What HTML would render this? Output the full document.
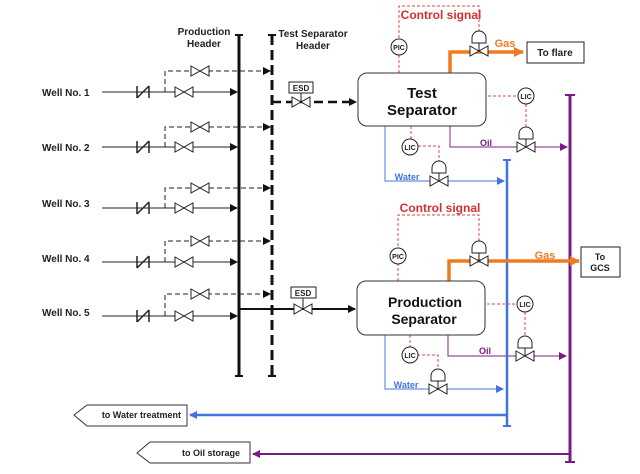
<!DOCTYPE html>
<html><head><meta charset="utf-8"><style>
html,body{margin:0;padding:0;background:#fff;}
svg{display:block;font-family:"Liberation Sans","DejaVu Sans",sans-serif;}
.lbl{font-size:10px;font-weight:bold;fill:#222;}
</style></head><body>
<svg width="640" height="474" viewBox="0 0 640 474" xmlns="http://www.w3.org/2000/svg">
<defs>
<g id="v"><path d="M-9,-5 L9,5 L9,-5 L-9,5 Z" fill="#fff" stroke="#222" stroke-width="1"/></g>
<g id="cv"><path d="M-9,-5 L9,5 L9,-5 L-9,5 Z" fill="#fff" stroke="#222" stroke-width="1"/><line x1="0" y1="0" x2="0" y2="-8" stroke="#222"/><path d="M-7,-8 L-7,-13 A7,7 0 0 1 7,-13 L7,-8 Z" fill="#fff" stroke="#222"/></g>
<g id="ck"><line x1="-6" y1="-6" x2="-6" y2="6" stroke="#222" stroke-width="1.5"/><line x1="6" y1="-6" x2="6" y2="6" stroke="#222" stroke-width="1.5"/><line x1="-6" y1="6" x2="6" y2="-6" stroke="#222" stroke-width="1.5"/></g>
<marker id="ak" markerWidth="8" markerHeight="8" refX="7" refY="4" orient="auto" markerUnits="userSpaceOnUse"><path d="M0,0 L8,4 L0,8 Z" fill="#111"/></marker>
<marker id="ab" markerWidth="8" markerHeight="8" refX="7" refY="4" orient="auto" markerUnits="userSpaceOnUse"><path d="M0,0 L8,4 L0,8 Z" fill="#4472e0"/></marker>
<marker id="ap" markerWidth="8" markerHeight="8" refX="7" refY="4" orient="auto" markerUnits="userSpaceOnUse"><path d="M0,0 L8,4 L0,8 Z" fill="#7b1a86"/></marker>
<marker id="ao" markerWidth="10" markerHeight="10" refX="9" refY="5" orient="auto" markerUnits="userSpaceOnUse"><path d="M0,0 L10,5 L0,10 Z" fill="#f07a20"/></marker>
</defs>

<!-- headers text -->
<text class="lbl" x="204" y="35" text-anchor="middle">Production</text>
<text class="lbl" x="204" y="47" text-anchor="middle">Header</text>
<text class="lbl" x="313" y="37" text-anchor="middle">Test Separator</text>
<text class="lbl" x="313" y="49" text-anchor="middle">Header</text>

<!-- headers -->
<line x1="239" y1="35" x2="239" y2="376" stroke="#111" stroke-width="3"/>
<line x1="235" y1="35" x2="243" y2="35" stroke="#111" stroke-width="2"/>
<line x1="235" y1="376" x2="243" y2="376" stroke="#111" stroke-width="2"/>
<line x1="272" y1="35" x2="272" y2="376" stroke="#111" stroke-width="3" stroke-dasharray="10,5"/>
<line x1="268" y1="35" x2="276" y2="35" stroke="#111" stroke-width="2"/>
<line x1="268" y1="376" x2="276" y2="376" stroke="#111" stroke-width="2"/>

<!-- wells -->
<g font-size="10" font-weight="bold" fill="#222">
<text x="42" y="96">Well No. 1</text>
<text x="42" y="151">Well No. 2</text>
<text x="42" y="207">Well No. 3</text>
<text x="42" y="262">Well No. 4</text>
<text x="42" y="316">Well No. 5</text>
</g>
<g stroke="#222" stroke-width="1" fill="none">
<path d="M102,92 H237" marker-end="url(#ak)"/><path d="M165,92 V71 H270" stroke-dasharray="5,3" marker-end="url(#ak)"/>
<path d="M102,147 H237" marker-end="url(#ak)"/><path d="M165,147 V127 H270" stroke-dasharray="5,3" marker-end="url(#ak)"/>
<path d="M102,208 H237" marker-end="url(#ak)"/><path d="M165,208 V188 H270" stroke-dasharray="5,3" marker-end="url(#ak)"/>
<path d="M102,262 H237" marker-end="url(#ak)"/><path d="M165,262 V241 H270" stroke-dasharray="5,3" marker-end="url(#ak)"/>
<path d="M102,316 H237" marker-end="url(#ak)"/><path d="M165,316 V294 H270" stroke-dasharray="5,3" marker-end="url(#ak)"/>
</g>
<use href="#ck" x="143" y="92"/><use href="#v" x="184" y="92"/><use href="#v" x="200" y="71"/>
<use href="#ck" x="143" y="147"/><use href="#v" x="184" y="147"/><use href="#v" x="200" y="127"/>
<use href="#ck" x="143" y="208"/><use href="#v" x="184" y="208"/><use href="#v" x="200" y="188"/>
<use href="#ck" x="143" y="262"/><use href="#v" x="184" y="262"/><use href="#v" x="200" y="241"/>
<use href="#ck" x="143" y="316"/><use href="#v" x="184" y="316"/><use href="#v" x="200" y="294"/>

<!-- ESD lines -->
<line x1="272" y1="102" x2="356" y2="102" stroke="#111" stroke-width="2.5" stroke-dasharray="9,5" marker-end="url(#ak)"/>
<rect x="289" y="82" width="24" height="11" fill="#fff" stroke="#222"/><text x="301" y="91" font-size="8" font-weight="bold" text-anchor="middle" fill="#222">ESD</text>
<line x1="301" y1="93" x2="301" y2="102" stroke="#222"/><use href="#v" x="301" y="102"/>
<line x1="239" y1="309" x2="355" y2="309" stroke="#111" stroke-width="2" marker-end="url(#ak)"/>
<rect x="291" y="287" width="25" height="11" fill="#fff" stroke="#222"/><text x="303" y="296" font-size="8" font-weight="bold" text-anchor="middle" fill="#222">ESD</text>
<line x1="303" y1="298" x2="303" y2="309" stroke="#222"/><use href="#v" x="303" y="309"/>

<!-- vertical collectors -->
<line x1="507" y1="160" x2="507" y2="426" stroke="#4472e0" stroke-width="2.5"/>
<line x1="503" y1="160" x2="511" y2="160" stroke="#4472e0" stroke-width="2"/>
<line x1="503" y1="426" x2="511" y2="426" stroke="#4472e0" stroke-width="2"/>
<line x1="570" y1="95" x2="570" y2="462" stroke="#7b1a86" stroke-width="3"/>
<line x1="565" y1="95" x2="575" y2="95" stroke="#7b1a86" stroke-width="2"/>
<line x1="565" y1="462" x2="575" y2="462" stroke="#7b1a86" stroke-width="2"/>

<!-- TEST SEPARATOR -->
<g stroke="#d44" stroke-width="1" stroke-dasharray="3,2" fill="none">
<path d="M399,73 V6 H479 V37"/><path d="M473,96 H518"/><path d="M526,104 V128"/>
<path d="M411,126 V139"/><path d="M418,146 H439 V168"/>
</g>
<text x="441" y="19" font-size="12" font-weight="bold" fill="#d43030" text-anchor="middle">Control signal</text>
<circle cx="399" cy="47" r="8" fill="#fff" stroke="#222"/><text x="399" y="50" font-size="7" font-weight="bold" text-anchor="middle" fill="#222">PIC</text>
<path d="M450,73 V52 H523" stroke="#f07a20" stroke-width="3.5" fill="none" marker-end="url(#ao)"/>
<use href="#cv" x="479" y="51"/>
<text x="505" y="47" font-size="11" font-weight="bold" fill="#f07a20" text-anchor="middle">Gas</text>
<rect x="527" y="42" width="57" height="21" fill="#fff" stroke="#222"/><text x="555" y="56" font-size="10" font-weight="bold" text-anchor="middle" fill="#222">To flare</text>
<path d="M450,126 V147 H567" stroke="#9a4a9e" stroke-width="1.2" fill="none" marker-end="url(#ap)"/>
<text x="486" y="146" font-size="9" font-weight="bold" fill="#7b1a86" text-anchor="middle">Oil</text>
<path d="M385,126 V181 H504" stroke="#6a8ee8" stroke-width="1.2" fill="none" marker-end="url(#ab)"/>
<text x="407" y="180" font-size="9" font-weight="bold" fill="#4472e0" text-anchor="middle">Water</text>
<rect x="358" y="73" width="128" height="53" rx="9" fill="#fff" stroke="#333" stroke-width="1"/>
<text x="422" y="98" font-size="15" font-weight="bold" text-anchor="middle" fill="#111">Test</text>
<text x="422" y="115" font-size="15" font-weight="bold" text-anchor="middle" fill="#111">Separator</text>
<path d="M473,96 H486" stroke="#fff" stroke-width="0"/>
<circle cx="526" cy="96" r="8" fill="#fff" stroke="#222"/><text x="526" y="99" font-size="7" font-weight="bold" text-anchor="middle" fill="#222">LIC</text>
<use href="#cv" x="526" y="147"/>
<circle cx="410" cy="147" r="8" fill="#fff" stroke="#222"/><text x="410" y="150" font-size="7" font-weight="bold" text-anchor="middle" fill="#222">LIC</text>
<use href="#cv" x="439" y="181"/>

<!-- PRODUCTION SEPARATOR -->
<g stroke="#d44" stroke-width="1" stroke-dasharray="3,2" fill="none">
<path d="M398,281 V215 H479 V245"/><path d="M472,304 H517"/><path d="M525,312 V340"/>
<path d="M410,335 V348"/><path d="M417,355 H438 V376"/>
</g>
<text x="440" y="212" font-size="12" font-weight="bold" fill="#d43030" text-anchor="middle">Control signal</text>
<circle cx="398" cy="256" r="8" fill="#fff" stroke="#222"/><text x="398" y="259" font-size="7" font-weight="bold" text-anchor="middle" fill="#222">PIC</text>
<path d="M449,281 V261 H579" stroke="#f07a20" stroke-width="3.5" fill="none" marker-end="url(#ao)"/>
<use href="#cv" x="479" y="261"/>
<text x="545" y="259" font-size="11" font-weight="bold" fill="#f07a20" text-anchor="middle">Gas</text>
<rect x="581" y="247" width="39" height="30" fill="#fff" stroke="#222"/>
<text x="600" y="260" font-size="9" font-weight="bold" text-anchor="middle" fill="#222">To</text>
<text x="600" y="271" font-size="9" font-weight="bold" text-anchor="middle" fill="#222">GCS</text>
<path d="M448,335 V356 H566" stroke="#9a4a9e" stroke-width="1.2" fill="none" marker-end="url(#ap)"/>
<text x="485" y="354" font-size="9" font-weight="bold" fill="#7b1a86" text-anchor="middle">Oil</text>
<path d="M385,335 V389 H503" stroke="#6a8ee8" stroke-width="1.2" fill="none" marker-end="url(#ab)"/>
<text x="406" y="388" font-size="9" font-weight="bold" fill="#4472e0" text-anchor="middle">Water</text>
<rect x="357" y="281" width="128" height="54" rx="9" fill="#fff" stroke="#333" stroke-width="1"/>
<text x="425" y="307" font-size="14" font-weight="bold" text-anchor="middle" fill="#111">Production</text>
<text x="424" y="324" font-size="14" font-weight="bold" text-anchor="middle" fill="#111">Separator</text>
<circle cx="525" cy="304" r="8" fill="#fff" stroke="#222"/><text x="525" y="307" font-size="7" font-weight="bold" text-anchor="middle" fill="#222">LIC</text>
<use href="#cv" x="525" y="356"/>
<circle cx="410" cy="355" r="8" fill="#fff" stroke="#222"/><text x="410" y="358" font-size="7" font-weight="bold" text-anchor="middle" fill="#222">LIC</text>
<use href="#cv" x="438" y="389"/>

<!-- outlets -->
<line x1="507" y1="415" x2="190" y2="415" stroke="#4472e0" stroke-width="2.5" marker-end="url(#ab)"/>
<path d="M74,415 L87,405 H187 V426 H87 Z" fill="#fff" stroke="#333"/>
<text x="181" y="418" font-size="9" font-weight="bold" text-anchor="end" fill="#222">to Water treatment</text>
<line x1="570" y1="454" x2="253" y2="454" stroke="#7b1a86" stroke-width="2" marker-end="url(#ap)"/>
<path d="M137,453 L150,442 H250 V463 H150 Z" fill="#fff" stroke="#333"/>
<text x="240" y="456" font-size="9" font-weight="bold" text-anchor="end" fill="#222">to Oil storage</text>
</svg>
</body></html>
